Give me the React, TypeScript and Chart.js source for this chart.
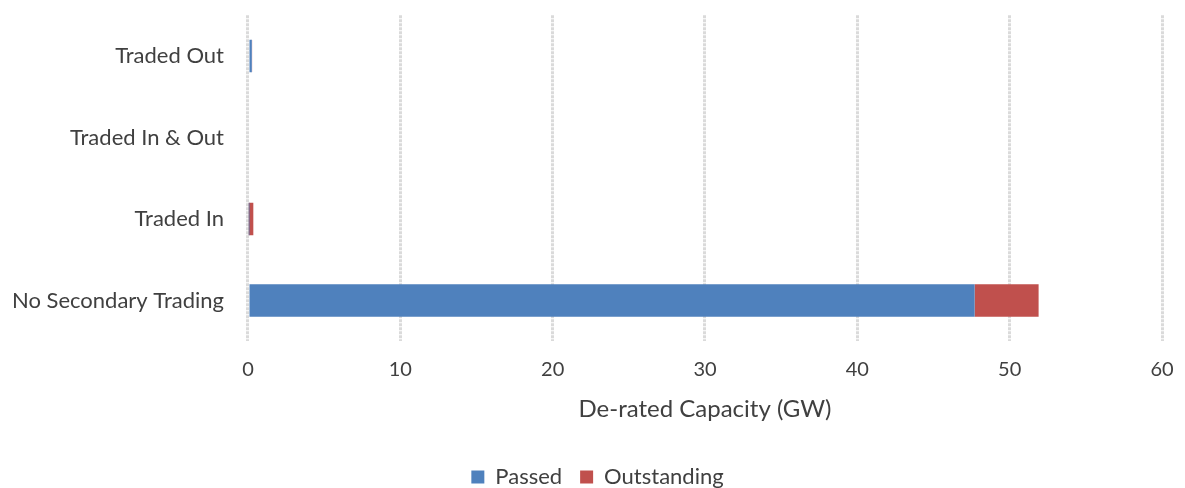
import React, { useEffect, useRef } from "react";
import { Chart, registerables } from "chart.js";
Chart.register(...registerables);

const categories = ["Traded Out", "Traded In & Out", "Traded In", "No Secondary Trading"];
const passed = [0.25, 0, 0.05, 47.7];
const outstanding = [0.02, 0, 0.3, 4.2];
const xTicksMax = 60;

export default function App() {
  const ref = useRef<HTMLCanvasElement>(null);
  useEffect(() => {
    document.body.style.margin = "0";
    const ctx = ref.current!;
    const chart = new Chart(ctx, {
      type: "bar",
      data: {
        labels: categories,
        datasets: [
          { label: "Passed", data: passed, backgroundColor: "#4f81bd", borderWidth: 0, categoryPercentage: 0.4, barPercentage: 1 },
          { label: "Outstanding", data: outstanding, backgroundColor: "#c0504d", borderWidth: 0, categoryPercentage: 0.4, barPercentage: 1 },
        ],
      },
      options: {
        indexAxis: "y",
        animation: false,
        responsive: false,
        layout: { padding: { top: 0, right: 0, left: 10, bottom: -10 } },
        plugins: {
          legend: {
            position: "bottom",
            labels: { font: { family: "Lato", size: 22 }, color: "#404040", boxWidth: 13, boxHeight: 13, padding: 18 },
          },
          tooltip: { enabled: false },
        },
        scales: {
          x: {
            stacked: true,
            min: 0,
            max: xTicksMax,
            afterFit: (scale: any) => {
              scale.paddingRight = 23;
            },
            ticks: { stepSize: 10, font: { family: "Lato", size: 20 }, color: "#404040", padding: 16 },
            grid: { color: "#dadada", lineWidth: 3, drawTicks: false },
            border: { display: false, dash: [3, 1] },
            title: { display: true, text: "De-rated Capacity (GW)", font: { family: "Lato", size: 24 }, color: "#404040", padding: { top: -2, bottom: 24 } },
          },
          y: {
            stacked: true,
            ticks: { font: { family: "Lato", size: 22 }, color: "#404040", padding: 2 },
            grid: { display: true, color: "rgba(0,0,0,0)", drawTicks: true, tickLength: 22 },
            border: { display: false },
          },
        },
      },
    });
    return () => chart.destroy();
  }, []);
  return <canvas ref={ref} width={1185} height={488} style={{ display: "block" }} />;
}
